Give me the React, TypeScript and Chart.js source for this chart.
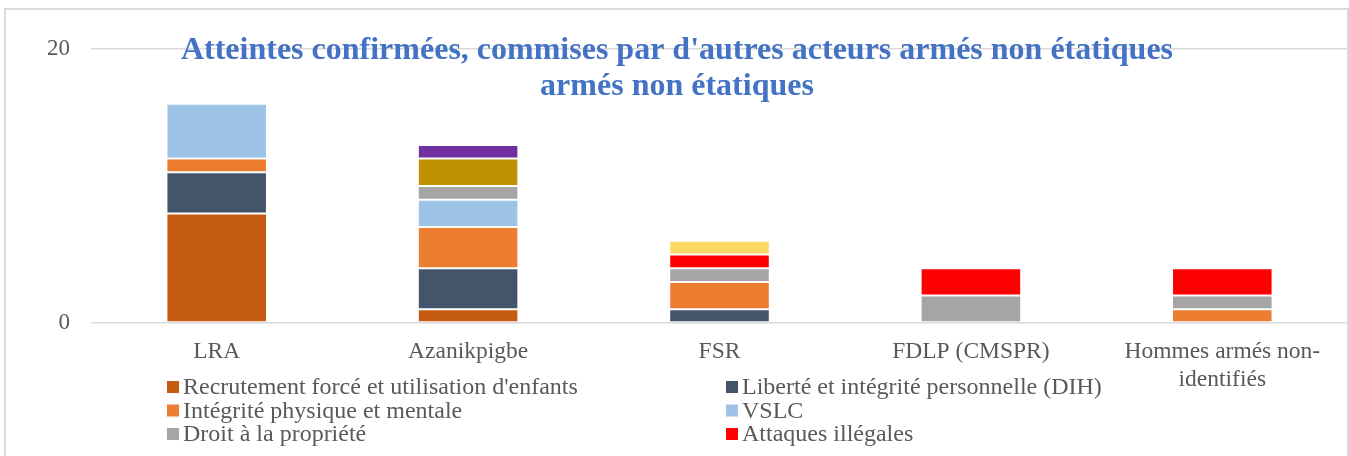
import React, { useEffect, useRef } from "react";
import { Chart, registerables } from "chart.js";

Chart.register(...registerables);

const categories: (string | string[])[] = [
  "LRA",
  "Azanikpigbe",
  "FSR",
  "FDLP (CMSPR)",
  ["Hommes armés non-", "identifiés"],
];

const seriesNames = [
  "Recrutement forcé et utilisation d'enfants",
  "Liberté et intégrité personnelle (DIH)",
  "Intégrité physique et mentale",
  "VSLC",
  "Droit à la propriété",
  "Attaques illégales",
  "Droit à la vie",
  "Enlèvements",
  "Autres atteintes",
];

const recrutement = [8, 1, 0, 0, 0];
const liberte = [3, 3, 1, 0, 0];
const integrite = [1, 3, 2, 0, 1];
const vslc = [4, 2, 0, 0, 0];
const propriete = [0, 1, 1, 2, 1];
const attaques = [0, 0, 1, 2, 2];
const droitVie = [0, 2, 0, 0, 0];
const enlevements = [0, 1, 0, 0, 0];
const autres = [0, 0, 1, 0, 0];

const seriesValues = [recrutement, liberte, integrite, vslc, propriete, attaques, droitVie, enlevements, autres];
const seriesColors = ["#C55A11", "#44546A", "#ED7D31", "#9DC3E6", "#A5A5A5", "#FF0000", "#BF9000", "#7030A0", "#FFD966"];

const yTicks = [0, 20];
const titleLines = [
  "Atteintes confirmées, commises par d'autres acteurs armés non étatiques",
  "armés non étatiques",
];

const FONT = "'Liberation Serif', 'Times New Roman', serif";

const titlePlugin = {
  id: "overlayTitle",
  afterDraw(chart: any) {
    const ctx = chart.ctx;
    ctx.save();
    ctx.font = `bold 32px ${FONT}`;
    ctx.fillStyle = "#4472C4";
    ctx.textAlign = "center";
    ctx.textBaseline = "middle";
    const cx = 677;
    ctx.fillText(titleLines[0], cx, 51);
    ctx.fillText(titleLines[1], cx, 87);
    ctx.restore();
  },
};

const legendPlugin = {
  id: "twoColLegend",
  afterDraw(chart: any) {
    const ctx = chart.ctx;
    ctx.save();
    ctx.beginPath();
    ctx.rect(0, 0, chart.width, 447);
    ctx.clip();
    ctx.font = `24px ${FONT}`;
    ctx.textBaseline = "middle";
    ctx.textAlign = "left";
    const colX = [167, 726];
    const rowY0 = 387;
    const rowH = 23.5;
    chart.data.datasets.forEach((ds: any, i: number) => {
      const col = i % 2;
      const row = Math.floor(i / 2);
      const y = rowY0 + row * rowH;
      const x = colX[col];
      ctx.fillStyle = ds.backgroundColor;
      ctx.fillRect(x, y - 6, 12, 12);
      ctx.fillStyle = "#595959";
      ctx.fillText(ds.label, x + 16, y + 1);
    });
    ctx.restore();
  },
};

export default function App() {
  const canvasRef = useRef<HTMLCanvasElement | null>(null);

  useEffect(() => {
    if (!canvasRef.current) return;
    const chart = new Chart(canvasRef.current, {
      type: "bar",
      data: {
        labels: categories,
        datasets: seriesNames.map((name, i) => ({
          label: name,
          data: seriesValues[i],
          backgroundColor: seriesColors[i],
          borderColor: "rgba(255,255,255,0.45)",
          borderWidth: 1,
          borderSkipped: false,
          categoryPercentage: 1,
          barPercentage: 0.4,
        })),
      },
      options: {
        responsive: false,
        maintainAspectRatio: false,
        animation: false,
        layout: { padding: { top: 49, right: 1, left: 0, bottom: 0 } },
        plugins: {
          legend: { display: false },
          title: { display: false },
          tooltip: { enabled: false },
        },
        scales: {
          x: {
            stacked: true,
            grid: { display: false, drawTicks: false },
            border: { display: false },
            ticks: {
              color: "#595959",
              font: { family: FONT, size: 23.5, lineHeight: 1.18 },
              padding: 15,
              maxRotation: 0,
              autoSkip: false,
            },
            afterFit: (scale: any) => {
              scale.height = 133;
            },
          },
          y: {
            stacked: true,
            min: 0,
            max: 20,
            afterBuildTicks: (scale: any) => {
              scale.ticks = yTicks.map((v) => ({ value: v }));
            },
            grid: { color: "#D9D9D9", lineWidth: 1.5, drawTicks: false },
            border: { display: false },
            ticks: {
              color: "#595959",
              font: { family: FONT, size: 23 },
              padding: 21,
            },
            afterFit: (scale: any) => {
              scale.width = 91;
            },
          },
        },
      },
      plugins: [titlePlugin, legendPlugin],
    });
    return () => chart.destroy();
  }, []);

  return (
    <div style={{ position: "fixed", left: 0, top: 0, width: 1349, height: 456, overflow: "hidden", background: "#fff" }}>
      <div
        style={{
          position: "absolute",
          left: 4,
          top: 8,
          width: 1345,
          height: 520,
          border: "2px solid #D9D9D9",
          boxSizing: "border-box",
        }}
      />
      <canvas ref={canvasRef} width={1349} height={456} style={{ position: "absolute", left: 0, top: 0 }} />
    </div>
  );
}
